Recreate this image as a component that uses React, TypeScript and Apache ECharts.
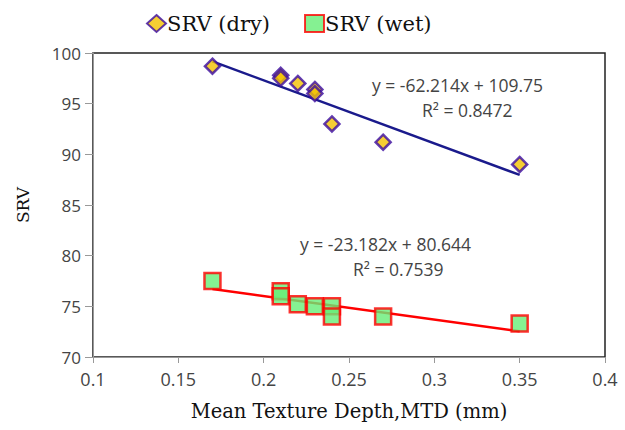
import React, { useEffect, useRef } from "react";
import * as echarts from "echarts";

const dryX = [0.17, 0.21, 0.21, 0.22, 0.23, 0.23, 0.24, 0.27, 0.35];
const dryY = [98.7, 97.8, 97.5, 97.0, 96.4, 96.0, 93.0, 91.2, 89.0];
const wetX = [0.17, 0.21, 0.21, 0.22, 0.23, 0.24, 0.24, 0.27, 0.35];
const wetY = [77.5, 76.5, 76.0, 75.2, 75.0, 75.0, 74.0, 74.0, 73.3];
const dryTrendX = [0.17, 0.35];
const dryTrendY = [99.17, 87.97];
const wetTrendX = [0.17, 0.35];
const wetTrendY = [76.7, 72.53];
const dryEq = "y = -62.214x + 109.75";
const dryR2 = "R² = 0.8472";
const wetEq = "y = -23.182x + 80.644";
const wetR2 = "R² = 0.7539";

export default function App() {
  const ref = useRef<HTMLDivElement>(null);
  useEffect(() => {
    document.body.style.margin = "0";
    const chart = echarts.init(ref.current!, null, { renderer: "svg" });
    const serif = "'DejaVu Serif', serif";
    const sans = "'Open Sans', 'DejaVu Sans', sans-serif";
    chart.setOption({
      animation: false,
      backgroundColor: "#fff",
      legend: {
        top: 8,
        left: 141,
        itemGap: 34,
        itemWidth: 19,
        itemHeight: 17,
        textStyle: { fontFamily: serif, fontSize: 21, color: "#111", padding: [0, 0, 0, -4] },
        data: ["SRV (dry)", "SRV (wet)"],
      },
      grid: {
        left: 93,
        right: 20,
        top: 53,
        bottom: 73,
        show: true,
        borderColor: "#222",
        borderWidth: 1.5,
      },
      xAxis: {
        type: "value",
        min: 0.1,
        max: 0.4,
        interval: 0.05,
        name: "Mean Texture Depth,MTD (mm)",
        nameLocation: "middle",
        nameGap: 44,
        nameTextStyle: { fontFamily: serif, fontSize: 19.5, color: "#111" },
        axisLine: { show: true, lineStyle: { color: "#999" } },
        axisTick: { show: true, length: 6, lineStyle: { color: "#999" } },
        splitLine: { show: false },
        axisLabel: {
          fontFamily: sans,
          fontSize: 18,
          color: "#444",
          margin: 13,
          formatter: (v: number) => String(Math.round(v * 100) / 100),
        },
      },
      yAxis: {
        type: "value",
        min: 70,
        max: 100,
        interval: 5,
        name: "SRV",
        nameLocation: "middle",
        nameGap: 62,
        nameTextStyle: { fontFamily: serif, fontSize: 17, color: "#111" },
        axisLine: { show: true, lineStyle: { color: "#999" } },
        axisTick: { show: true, length: 8, lineStyle: { color: "#999" } },
        splitLine: { show: false },
        axisLabel: { fontFamily: sans, fontSize: 17, color: "#444", margin: 12 },
      },
      series: [
        {
          name: "dry trend",
          type: "line",
          data: dryTrendX.map((x, i) => [x, dryTrendY[i]]),
          symbol: "none",
          lineStyle: { color: "#1a1a8c", width: 2.5 },
          silent: true,
          z: 1,
        },
        {
          name: "wet trend",
          type: "line",
          data: wetTrendX.map((x, i) => [x, wetTrendY[i]]),
          symbol: "none",
          lineStyle: { color: "#ff0000", width: 2.5 },
          silent: true,
          z: 1,
        },
        {
          name: "SRV (dry)",
          type: "scatter",
          symbol: "diamond",
          symbolSize: 15,
          data: dryX.map((x, i) => [x, dryY[i]]),
          itemStyle: { color: "#f2c200", borderColor: "#3a0aa0", borderWidth: 2.5 },
          z: 3,
        },
        {
          name: "SRV (wet)",
          type: "scatter",
          symbol: "rect",
          symbolSize: 16,
          data: wetX.map((x, i) => [x, wetY[i]]),
          itemStyle: { color: "#66ee77", borderColor: "#ff0000", borderWidth: 2.5 },
          z: 3,
        },
      ],
      graphic: [
        { type: "text", left: 372, top: 76, style: { text: dryEq, fontFamily: sans, fontSize: 17.5, fill: "#444" } },
        { type: "text", left: 422, top: 101, style: { text: dryR2, fontFamily: sans, fontSize: 17.5, fill: "#444" } },
        { type: "text", left: 300, top: 235, style: { text: wetEq, fontFamily: sans, fontSize: 17.5, fill: "#444" } },
        { type: "text", left: 353, top: 260, style: { text: wetR2, fontFamily: sans, fontSize: 17.5, fill: "#444" } },
      ],
    });
    return () => chart.dispose();
  }, []);
  return <div ref={ref} style={{ width: 625, height: 430 }} />;
}
